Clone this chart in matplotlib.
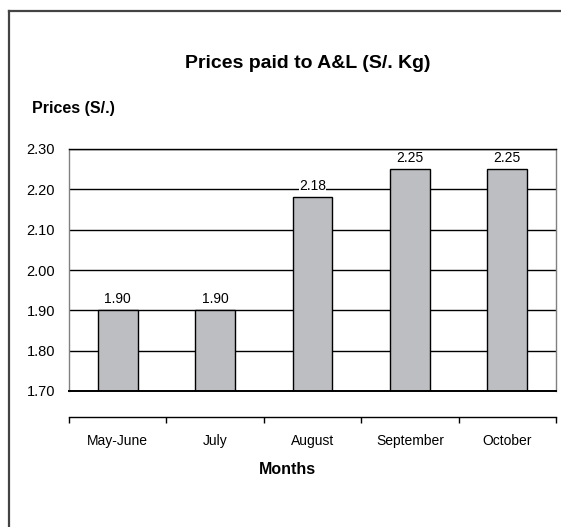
import matplotlib
matplotlib.use("Agg")
import matplotlib.pyplot as plt
from matplotlib.lines import Line2D

months = ["May-June", "July", "August", "September", "October"]
prices = [1.90, 1.90, 2.18, 2.25, 2.25]
yticks = [1.70, 1.80, 1.90, 2.00, 2.10, 2.20, 2.30]

plt.rcParams['font.family'] = ['Liberation Sans Narrow', 'Liberation Sans', 'DejaVu Sans']

fig = plt.figure(figsize=(5.61, 5.27), dpi=100)
ax = fig.add_axes([69 / 561, 1 - 391 / 527, 487 / 561, 242 / 527])

x = list(range(len(months)))
ax.bar(x, prices, width=0.41, color="#bdbec2", edgecolor="black", linewidth=1.0, zorder=3)
for xi, p in zip(x, prices):
    ax.annotate(f"{p:.2f}", (xi, p), xytext=(0, 3), textcoords="offset points",
                ha="center", va="bottom", fontsize=10, zorder=4,
                bbox=dict(facecolor="white", edgecolor="none", pad=0.3))

ax.set_ylim(1.70, 2.30)
ax.set_xlim(-0.5, len(months) - 0.5)
ax.set_yticks(yticks)
ax.set_yticklabels([f"{v:.2f}" for v in yticks], fontsize=10.5)
ax.yaxis.grid(True, color="black", linewidth=1.0, zorder=1)
ax.tick_params(axis="y", length=0, pad=10)
# plot area top and base lines
ax.axhline(yticks[0], color="black", linewidth=1.4, zorder=5, clip_on=False)
ax.axhline(yticks[-1], color="black", linewidth=1.0, zorder=5, clip_on=False)

ax.set_xticks(x)
ax.set_xticklabels(months, fontsize=10.5)
ax.set_xticks([i - 0.5 for i in range(len(months) + 1)], minor=True)
ax.tick_params(axis="x", which="major", length=0, pad=12)
ax.tick_params(axis="x", which="minor", length=4, direction="out", width=1, color="black")
ax.spines["bottom"].set_position(("outward", 19))
ax.spines["bottom"].set_linewidth(1.0)
for s in ["left", "right", "top"]:
    ax.spines[s].set_color("#808080")
    ax.spines[s].set_linewidth(1.0)
ax.spines["top"].set_visible(False)

fig.text(308 / 561, 1 - 63 / 527, "Prices paid to A&L (S/. Kg)", ha="center", va="center",
         fontsize=14, fontweight="bold")
fig.text(32 / 561, 1 - 108 / 527, "Prices (S/.)", ha="left", va="center",
         fontsize=11.5, fontweight="bold")
fig.text(287 / 561, 1 - 470 / 527, "Months", ha="center", va="center",
         fontsize=11.5, fontweight="bold")

# outer frame (left and top edges only)
fig.add_artist(Line2D([8.5 / 561, 8.5 / 561], [0, 1 - 10.5 / 527], color="#444444", linewidth=1.6,
                      transform=fig.transFigure))
fig.add_artist(Line2D([8.5 / 561, 1], [1 - 10.5 / 527, 1 - 10.5 / 527], color="#444444", linewidth=1.6,
                      transform=fig.transFigure))

fig.savefig("out.png", dpi=100)
